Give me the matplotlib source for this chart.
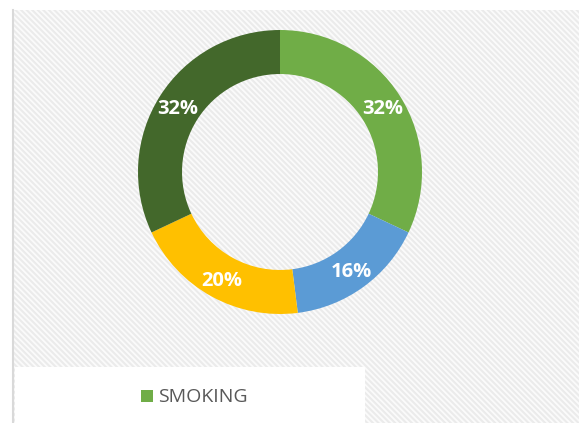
import matplotlib.pyplot as plt
from matplotlib.patches import Rectangle

# chart data
categories = ["SMOKING", "Other 1", "Other 2", "Other 3"]
values = [32, 16, 20, 32]
colors = ["#70AD47", "#5B9BD5", "#FFC000", "#43682B"]

W, H = 579, 423
fig = plt.figure(figsize=(W / 100, H / 100), dpi=100)
fig.patch.set_facecolor("white")

# background in pixel coordinates
plt.rcParams["hatch.linewidth"] = 1.5
bg = fig.add_axes([0, 0, 1, 1])
bg.set_xlim(0, W)
bg.set_ylim(H, 0)
bg.axis("off")
bg.add_patch(Rectangle((14, 10), W - 14, H - 10, facecolor="#fbfbfb", edgecolor="none"))
bg.add_patch(Rectangle((14, 10), W - 14, H - 10, facecolor="none",
                       edgecolor="#ebebeb", linewidth=0, hatch="\\\\\\\\\\\\"))
bg.plot([13, 13], [10, H], color="#d9d9d9", lw=1.5)
bg.add_patch(Rectangle((15, 367), 350, 60, facecolor="white", edgecolor="none"))

# donut
cx, cy, r = 280, 172, 142
ax = fig.add_axes([(cx - r) / W, 1 - (cy + r) / H, 2 * r / W, 2 * r / H])
wedges, texts, autotexts = ax.pie(
    values, colors=colors, startangle=90, counterclock=False,
    radius=1, wedgeprops=dict(width=0.31, edgecolor="none"),
    autopct="%d%%", pctdistance=0.855,
    textprops=dict(color="white", fontsize=14.5, fontweight="bold", family="Open Sans"),
)
for t in autotexts:
    x, y = t.get_position()
    t.set_position((x, y - 0.015))
ax.set_xlim(-1, 1)
ax.set_ylim(-1, 1)
ax.set_aspect("equal")
ax.axis("off")

# legend (only first entry visible)
bg.add_patch(Rectangle((141, 390), 12, 12, facecolor=colors[0], edgecolor="none"))
bg.text(158, 397, categories[0], color="#595959", fontsize=14, family="Open Sans",
        va="center", ha="left")

fig.savefig("out.png", dpi=100)
